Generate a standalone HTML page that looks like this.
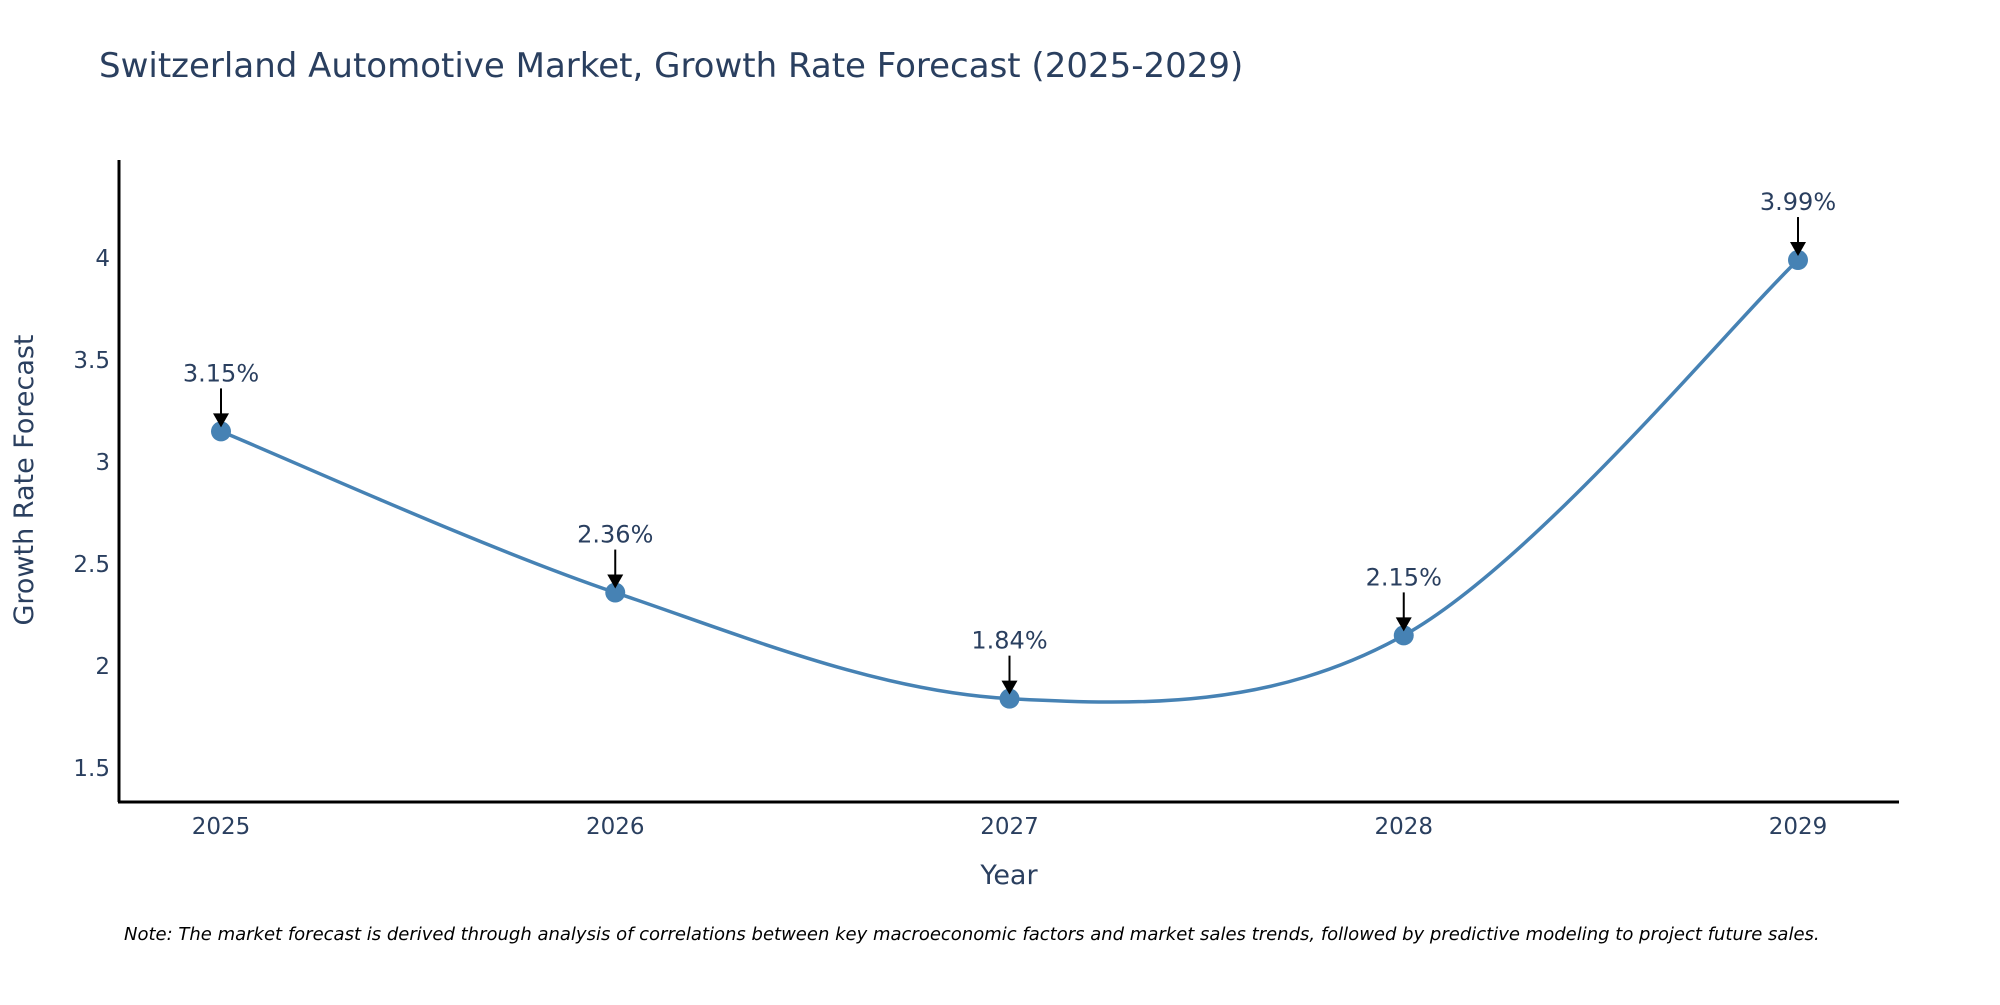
<!DOCTYPE html>
<html><head><meta charset="utf-8"><style>
body{margin:0;background:#fff;}
svg text{font-family:"DejaVu Sans","Liberation Sans",sans-serif;fill:#2a3f5f;}
</style></head><body>
<svg width="2000" height="1000" viewBox="0 0 2000 1000" xmlns="http://www.w3.org/2000/svg">
<text x="99" y="77" font-size="34">Switzerland Automotive Market, Growth Rate Forecast (2025-2029)</text>
<g id="yticks"></g>
<g id="xticks"></g>
<line x1="119" y1="160" x2="119" y2="802" stroke="#000" stroke-width="3"/>
<line x1="118" y1="802" x2="1899" y2="802" stroke="#000" stroke-width="3"/>
<path id="line" fill="none" stroke="#4682b4" stroke-width="3.5"/>
<g id="marks"></g>
<g id="annots"></g>
<text x="33" y="480" font-size="27" text-anchor="middle" transform="rotate(-90 33 480)">Growth Rate Forecast</text>
<text x="1009" y="884" font-size="27" text-anchor="middle">Year</text>
<text x="124" y="940" font-size="18" font-style="italic" style="fill:#000">Note: The market forecast is derived through analysis of correlations between key macroeconomic factors and market sales trends, followed by predictive modeling to project future sales.</text>
</svg>
<script>
const years=[2025,2026,2027,2028,2029];
const values=[3.15,2.36,1.84,2.15,3.99];
const labels=["3.15%","2.36%","1.84%","2.15%","3.99%"];
const yTicks=[1.5,2,2.5,3,3.5,4];
const NS="http://www.w3.org/2000/svg";
function xS(i){return 221+(1798-221)*i/(years.length-1);}
function yS(v){return 258+(4-v)*204;}
function mk(t,a,p){const e=document.createElementNS(NS,t);for(const k in a)e.setAttribute(k,a[k]);p.appendChild(e);return e;}
const yt=document.getElementById('yticks');
yTicks.forEach(v=>{const t=mk('text',{x:110,y:yS(v)+8,'font-size':23,'text-anchor':'end'},yt);t.textContent=v;

});
const xt=document.getElementById('xticks');
years.forEach((y,i)=>{const t=mk('text',{x:xS(i),y:834,'font-size':23,'text-anchor':'middle'},xt);t.textContent=y;

});
const pts=values.map((v,i)=>[xS(i),yS(v)]);
let d="M"+pts[0][0]+","+pts[0][1];const s=0.5;
for(let i=0;i<pts.length-1;i++){const p0=pts[Math.max(i-1,0)],p1=pts[i],p2=pts[i+1],p3=pts[Math.min(i+2,pts.length-1)];
const c1=[p1[0]+(p2[0]-p0[0])*s/3,p1[1]+(p2[1]-p0[1])*s/3],c2=[p2[0]-(p3[0]-p1[0])*s/3,p2[1]-(p3[1]-p1[1])*s/3];
d+=` C${c1[0]},${c1[1]} ${c2[0]},${c2[1]} ${p2[0]},${p2[1]}`;}
document.getElementById('line').setAttribute('d',d);
const mg=document.getElementById('marks'),ag=document.getElementById('annots');
pts.forEach((p,i)=>{const c=mk('circle',{cx:p[0],cy:p[1],r:10,fill:'#4682b4'},mg);


const l=mk('line',{x1:p[0],y1:p[1]-43,x2:p[0],y2:p[1]-12,stroke:'#000','stroke-width':2},ag);


const h=mk('polygon',{points:`${p[0]-8},${p[1]-18} ${p[0]+8},${p[1]-18} ${p[0]},${p[1]-4}`,fill:'#000'},ag);


const t=mk('text',{x:p[0],y:p[1]-50,'font-size':24,'text-anchor':'middle'},ag);t.textContent=labels[i];

});
</script>
</body></html>
